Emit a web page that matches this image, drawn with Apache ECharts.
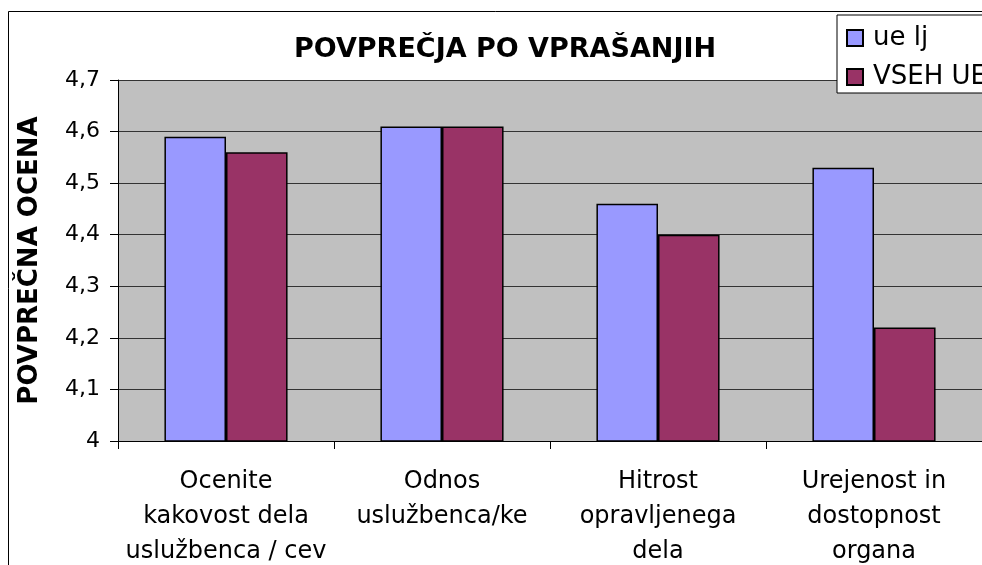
<!DOCTYPE html>
<html>
<head>
<meta charset="utf-8">
<script src="https://cdn.jsdelivr.net/npm/echarts@6/dist/echarts.min.js"></script>
<style>
  html, body { margin: 0; padding: 0; background: #fff; }
  #chart { width: 982px; height: 565px; }
</style>
</head>
<body>
<div id="chart"></div>
<script>
// podatki
const categories = [
  'Ocenite\nkakovost dela\nuslužbenca / cev',
  'Odnos\nuslužbenca/ke',
  'Hitrost\nopravljenega\ndela',
  'Urejenost in\ndostopnost\norgana'
];
const ueLj = [4.59, 4.61, 4.46, 4.53];
const vsehUe = [4.56, 4.61, 4.40, 4.22];

const chart = echarts.init(document.getElementById('chart'));

const option = {
  backgroundColor: '#fff',
  animation: false,
  textStyle: { fontFamily: 'DejaVu Sans, sans-serif', color: '#000' },
  title: {
    text: 'POVPREČJA PO VPRAŠANJIH',
    left: 500,
    top: 31,
    textAlign: 'center',
    textStyle: { fontSize: 27, fontWeight: 'bold', color: '#000' }
  },
  graphic: [
    {
      type: 'rect',
      shape: { x: 8.5, y: 11.5, width: 990, height: 600 },
      style: { fill: 'none', stroke: '#000', lineWidth: 1 },
      z: -1
    }
  ],
  legend: {
    orient: 'vertical',
    left: 837,
    top: 15,
    icon: 'rect',
    itemWidth: 16,
    itemHeight: 16,
    itemGap: 13,
    padding: [10, 60, 3, 9],
    backgroundColor: '#fff',
    borderColor: '#000',
    borderWidth: 1,
    textStyle: { fontSize: 26, lineHeight: 20, color: '#000', padding: [0, 0, 0, 5] },
    data: ['ue lj', 'VSEH UE']
  },
  grid: {
    left: 118,
    right: 0,
    top: 80,
    bottom: 124,
    outerBoundsMode: 'none',
    show: true,
    backgroundColor: '#c0c0c0',
    borderWidth: 0
  },
  xAxis: {
    type: 'category',
    data: categories,
    axisLine: { lineStyle: { color: '#000', width: 1 } },
    axisTick: { show: true, length: 8, lineStyle: { color: '#000' } },
    axisLabel: {
      fontSize: 24,
      lineHeight: 35,
      margin: 23,
      color: '#000',
      interval: 0,
      align: 'center'
    }
  },
  yAxis: {
    type: 'value',
    min: 4,
    max: 4.7,
    interval: 0.1,
    name: 'POVPREČNA OCENA',
    nameLocation: 'middle',
    nameGap: 75,
    nameRotate: 90,
    nameTextStyle: { fontSize: 26, fontWeight: 'bold', color: '#000' },
    axisLine: { show: true, lineStyle: { color: '#000', width: 1 } },
    axisTick: { show: true, length: 8, lineStyle: { color: '#000' } },
    axisLabel: {
      fontSize: 22,
      margin: 18,
      color: '#000',
      formatter: v => String(Math.round(v * 10) / 10).replace('.', ',')
    },
    splitLine: { show: true, lineStyle: { color: '#333', width: 1 } }
  },
  series: [
    {
      name: 'ue lj',
      type: 'bar',
      data: ueLj,
      barGap: '0%',
      barCategoryGap: '43%',
      itemStyle: { color: '#9999ff', borderColor: '#000', borderWidth: 1.5 }
    },
    {
      name: 'VSEH UE',
      type: 'bar',
      data: vsehUe,
      itemStyle: { color: '#993366', borderColor: '#000', borderWidth: 1.5 }
    }
  ]
};

chart.setOption(option);
</script>
</body>
</html>
